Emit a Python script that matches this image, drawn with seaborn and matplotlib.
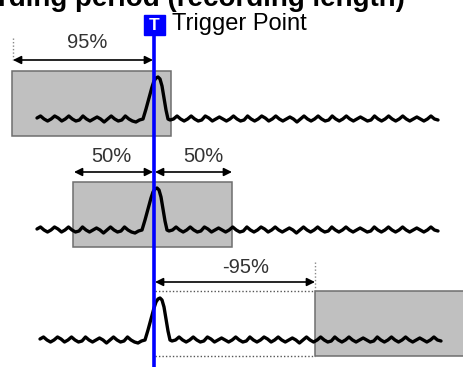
import numpy as np
import matplotlib
matplotlib.use("Agg")
import matplotlib.pyplot as plt
import seaborn as sns
from matplotlib.patches import Rectangle

# ---------------- data ----------------
title = "Recording period (recording length)"
trigger_label = "Trigger Point"
pretrigger_pct = [95, 50, -95]
row1_labels = ["95%"]
row2_labels = ["50%", "50%"]
row3_labels = ["-95%"]

# pulse shape relative to trigger position (dx) and baseline (dy, up = negative)
pulse_dx = [-11, -8, -5, -2, 0, 2, 4, 6, 8, 10, 12, 14, 16]
pulse_dy = [0, -10, -21, -32, -38, -41, -42, -40, -33, -21, -9, 0, 1]

# hand-read noise wiggles (offsets from baseline)
pre_noise = [-1, -3, 0, 2, 0, -3, -1, 2, 0, -3, 0, 2, 1, -3, 0, 2, 0, -2, 0, 3,
             0, -3, 0, 2, 1, -3, 0, 2, 3, 1]
post_noise = [0, -3, 0, 2, 0, -3, 0, 2, 1, -3, -1, 2, 0, -2, 0, 2, 0, -3, 0, 2,
              1, -3, 0, 2, 0, -3, -1, 2, 0, -3, 0, 2, 0, -2, 0, 3, 0, -3, 0, 2,
              0, -3, 0, 2, 1, -3, 0, 2, 0, -3, 0, 2, 0, -2, 0, 2, 1, -3, 0, 2,
              0, -3, 0, 2, 0, -3, 0, 2, 0, -2, 0, 2, 0, -3, 0, 1]

# ---------------- style ----------------
sns.set_theme(style="white")
plt.rcParams["font.family"] = ["Liberation Sans", "DejaVu Sans"]

fig = plt.figure(figsize=(4.63, 3.67), dpi=100)
ax = fig.add_axes([0, 0, 1, 1])
ax.set_xlim(0, 463)
ax.set_ylim(367, 0)
ax.axis("off")

TRIG_X = 154
BOX_FILL = "#c0c0c0"
BOX_EDGE = "#6e6e6e"
TXT = "#333333"
BLUE = "#0000ff"


def waveform(x0, x1, base, shift):
    p0 = TRIG_X + shift + pulse_dx[0]
    p1 = TRIG_X + shift + pulse_dx[-1]
    xs_pre = np.linspace(x0, p0, len(pre_noise) + 1)[:-1]
    xs_post = np.linspace(p1, x1, len(post_noise) + 1)[1:]
    xs = list(xs_pre) + [TRIG_X + shift + d for d in pulse_dx] + list(xs_post)
    ys = [base + v for v in pre_noise] + [base + v for v in pulse_dy] + [base + v for v in post_noise]
    sns.lineplot(x=xs, y=ys, sort=False, estimator=None, color="black", lw=2.4,
                 ax=ax, zorder=3, solid_joinstyle="round", solid_capstyle="round")


def arrow(xa, xb, y):
    ax.annotate("", xy=(xb, y), xytext=(xa, y),
                arrowprops=dict(arrowstyle="<|-|>", color="black", lw=1.2,
                                mutation_scale=12, shrinkA=0, shrinkB=0), zorder=4)


def pct(x, y, s):
    ax.text(x, y, s, ha="center", va="baseline", fontsize=14.5, color=TXT)


# title (cut at top, as in the reference)
ax.text(405, 6.5, title, ha="right", va="baseline", fontsize=20, fontweight="bold",
        color="black")

# trigger marker
ax.add_patch(Rectangle((144, 15), 21, 20, color=BLUE, zorder=6))
ax.text(154.5, 26, "T", ha="center", va="center", fontsize=12.5, fontweight="bold",
        color="white", zorder=7)
ax.text(172, 30, trigger_label, ha="left", va="baseline", fontsize=17, color="black")
ax.plot([TRIG_X, TRIG_X], [35, 370], color=BLUE, lw=2.6, zorder=5, solid_capstyle="butt")

# ---- row 1 : 95 % ----
ax.add_patch(Rectangle((12, 71), 159, 65, facecolor=BOX_FILL, edgecolor=BOX_EDGE, lw=1.1, zorder=1))
ax.plot([13, 13], [38, 62], color="#888888", lw=1, ls=(0, (1, 1.5)), zorder=2)
arrow(13, 153, 60)
pct(87, 48, row1_labels[0])
waveform(37, 438, 119, 0)

# ---- row 2 : 50 % ----
ax.add_patch(Rectangle((73, 182), 159, 65, facecolor=BOX_FILL, edgecolor=BOX_EDGE, lw=1.1, zorder=1))
arrow(74, 153, 172)
arrow(155, 232, 172)
pct(111, 162, row2_labels[0])
pct(203, 162, row2_labels[1])
waveform(37, 438, 230, -1)

# ---- row 3 : -95 % ----
ax.add_patch(Rectangle((315, 291), 170, 65, facecolor=BOX_FILL, edgecolor=BOX_EDGE, lw=1.1, zorder=1))
ax.plot([315, 315], [262, 291], color="#888888", lw=1, ls=(0, (1, 1.5)), zorder=2)
ax.plot([155, 315], [291, 291], color="#555555", lw=1, ls=(0, (1, 1.5)), zorder=2)
ax.plot([155, 315], [356, 356], color="#555555", lw=1, ls=(0, (1, 1.5)), zorder=2)
arrow(155, 315, 282)
pct(246, 273, row3_labels[0])
waveform(40, 441, 340, 2)

fig.savefig("out.png", dpi=100)
